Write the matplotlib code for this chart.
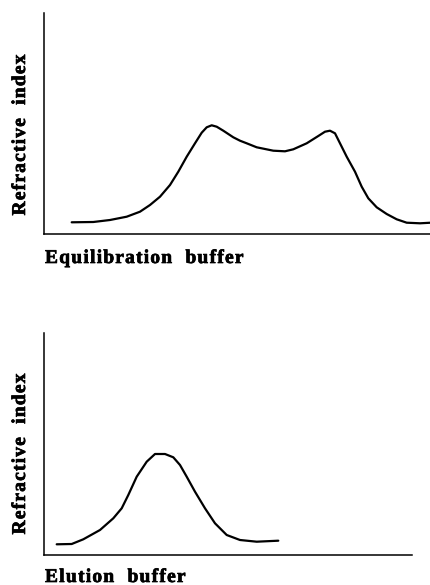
import matplotlib
matplotlib.use("Agg")
from matplotlib import pyplot as plt
from matplotlib import patheffects

# equilibration buffer trace (arbitrary units)
eq_x = [27.7, 49.3, 66, 82.7, 96, 106, 116, 126, 134.3, 142.7, 151, 157.7,
        162.7, 167.7, 172.7, 179.3, 189.3, 196, 202.7, 212.7, 229.3, 241,
        249.3, 262.7, 274.3, 281, 286, 291, 296, 302.7, 311, 317.7, 324.3,
        332.7, 342.7, 352.7, 362.7, 376, 387]
eq_y = [11.7, 12, 14, 17.3, 22.3, 29, 37.3, 49, 62.3, 77.3, 90.7, 101.3,
        106.7, 108.7, 107.3, 103.3, 96.7, 93.3, 90.7, 86.7, 83.3, 82.7,
        84.7, 90.7, 98, 102.3, 103.3, 100.7, 90.7, 77.3, 62.3, 47.3, 35.7,
        26.7, 20, 14.7, 11.3, 10.7, 11.3]

# elution buffer trace
el_x = [12.7, 27.7, 39.3, 56, 69.3, 77.7, 84.3, 92.7, 102.7, 111, 121,
        129.3, 136, 142.7, 151, 161, 171, 182.7, 196, 212.7, 234.3]
el_y = [10.7, 11, 15.7, 25, 36.7, 46.7, 60, 78.3, 93.3, 101, 101, 97.7,
        90, 78.3, 63.3, 46.7, 31.7, 20, 15, 13.3, 14.3]

YLABEL = "Refractive  index"
XLABELS = ["Equilibration  buffer", "Elution  buffer"]

plt.rcParams.update({
    "font.family": "Liberation Serif",
    "font.weight": "bold",
})

W, H = 431, 585
FS = 14
TRACK = 1.2  # extra px between letters, the old print is widely spaced
HEAVY = [patheffects.withStroke(linewidth=0.5, foreground="black")]
fig = plt.figure(figsize=(W / 100, H / 100), dpi=100)
renderer = fig.canvas.get_renderer()


def width_px(s):
    # measure with a trailing bar so spaces keep their advance
    t = fig.text(0, 0, s + "|", fontsize=FS, fontweight="bold")
    b = fig.text(0, 0, "|", fontsize=FS, fontweight="bold")
    w = t.get_window_extent(renderer).width - b.get_window_extent(renderer).width
    t.remove()
    b.remove()
    return w


def spaced(x, y, s, vertical=False):
    # x, y in px from top-left; horizontal: left edge, vertical: centre
    total = width_px(s) + TRACK * (len(s) - 1)
    for i, ch in enumerate(s):
        if ch == " ":
            continue
        off = width_px(s[:i]) + TRACK * i if i else 0
        if vertical:
            fig.text(x / W, 1 - (y + total / 2 - off) / H, ch, rotation=90,
                     ha="left", va="baseline", fontsize=FS,
                     fontweight="bold", rotation_mode="anchor",
                     path_effects=HEAVY)
        else:
            fig.text((x + off) / W, 1 - y / H, ch, ha="left", va="baseline",
                     fontsize=FS, fontweight="bold", path_effects=HEAVY)


def panel(rect, xs, ys, xmax, ymax, xlabel, ylab_y, xlab_base):
    ax = fig.add_axes(rect)
    ax.plot(xs, ys, color="black", lw=1.6, solid_joinstyle="round",
            solid_capstyle="round")
    ax.set_xlim(0, xmax)
    ax.set_ylim(0, ymax)
    ax.set_xticks([])
    ax.set_yticks([])
    for s in ("top", "right"):
        ax.spines[s].set_visible(False)
    for s in ("left", "bottom"):
        ax.spines[s].set_linewidth(1.1)
    spaced(25, ylab_y, YLABEL, vertical=True)
    spaced(45, xlab_base, xlabel)
    return ax


panel([44 / W, (H - 234) / H, 387 / W, 221 / H], eq_x, eq_y, 387, 221,
      XLABELS[0], 135, 263)
panel([44 / W, (H - 555) / H, 368 / W, 222 / H], el_x, el_y, 368, 222,
      XLABELS[1], 454, 582)

fig.savefig("out.png", dpi=100)
